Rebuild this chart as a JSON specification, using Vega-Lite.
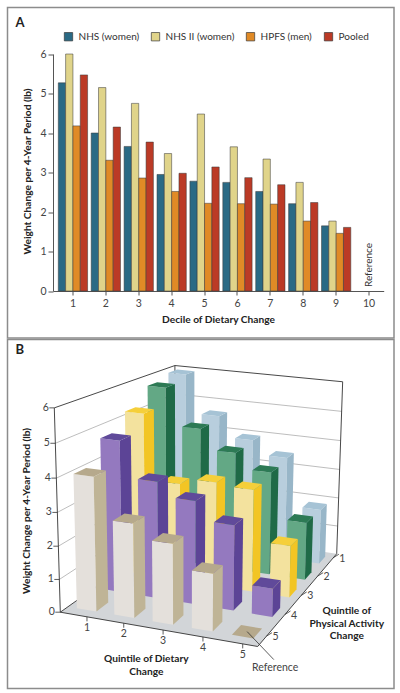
{
"$schema":"https://vega.github.io/schema/vega-lite/v6.json",
"padding":{"left":6.5,"top":6.5,"right":0,"bottom":0},
"spacing":-3.5,
"background":"white",
"config":{"font":"Lato","view":{"stroke":"#8c8c8c","strokeWidth":1.5},"text":{"color":"#333"}},
"datasets":{
"bars3d":[
{"diet":1,"activity":1,"change":5.95},{"diet":2,"activity":1,"change":4.65},{"diet":3,"activity":1,"change":3.96},{"diet":4,"activity":1,"change":3.5},{"diet":5,"activity":1,"change":1.87},
{"diet":1,"activity":2,"change":5.77},{"diet":2,"activity":2,"change":4.55},{"diet":3,"activity":2,"change":3.9},{"diet":4,"activity":2,"change":3.4},{"diet":5,"activity":2,"change":1.9},
{"diet":1,"activity":3,"change":5.23},{"diet":2,"activity":3,"change":3.14},{"diet":3,"activity":3,"change":3.34},{"diet":4,"activity":3,"change":3.26},{"diet":5,"activity":3,"change":1.65},
{"diet":1,"activity":4,"change":4.73},{"diet":2,"activity":4,"change":3.63},{"diet":3,"activity":4,"change":3.2},{"diet":4,"activity":4,"change":2.63},{"diet":5,"activity":4,"change":0.87},
{"diet":1,"activity":5,"change":4.04},{"diet":2,"activity":5,"change":2.83},{"diet":3,"activity":5,"change":2.41},{"diet":4,"activity":5,"change":1.71},{"diet":5,"activity":5,"change":0}
],
"scene":[
{"part":"floor","kind":"floor","corner":0,"diet":0.5,"activity":5.5,"change":0},
{"part":"floor","kind":"floor","corner":1,"diet":5.5,"activity":5.5,"change":0},
{"part":"floor","kind":"floor","corner":2,"diet":5.5,"activity":0.5,"change":0},
{"part":"floor","kind":"floor","corner":3,"diet":0.5,"activity":0.5,"change":0},
{"part":"grid1","kind":"grid","diet":0.5,"activity":5.5,"change":1},{"part":"grid1","kind":"grid","diet":0.5,"activity":0.5,"change":1},{"part":"grid1","kind":"grid","diet":5.5,"activity":0.5,"change":1},
{"part":"grid2","kind":"grid","diet":0.5,"activity":5.5,"change":2},{"part":"grid2","kind":"grid","diet":0.5,"activity":0.5,"change":2},{"part":"grid2","kind":"grid","diet":5.5,"activity":0.5,"change":2},
{"part":"grid3","kind":"grid","diet":0.5,"activity":5.5,"change":3},{"part":"grid3","kind":"grid","diet":0.5,"activity":0.5,"change":3},{"part":"grid3","kind":"grid","diet":5.5,"activity":0.5,"change":3},
{"part":"grid4","kind":"grid","diet":0.5,"activity":5.5,"change":4},{"part":"grid4","kind":"grid","diet":0.5,"activity":0.5,"change":4},{"part":"grid4","kind":"grid","diet":5.5,"activity":0.5,"change":4},
{"part":"grid5","kind":"grid","diet":0.5,"activity":5.5,"change":5},{"part":"grid5","kind":"grid","diet":0.5,"activity":0.5,"change":5},{"part":"grid5","kind":"grid","diet":5.5,"activity":0.5,"change":5},
{"part":"left","kind":"edge","diet":0.5,"activity":5.5,"change":0},{"part":"left","kind":"edge","diet":0.5,"activity":5.5,"change":6},
{"part":"right","kind":"edge","diet":5.5,"activity":0.5,"change":0},{"part":"right","kind":"edge","diet":5.5,"activity":0.5,"change":6},
{"part":"back","kind":"edge","diet":0.5,"activity":0.5,"change":0},{"part":"back","kind":"edge","diet":0.5,"activity":0.5,"change":6},
{"part":"top","kind":"edge","diet":0.5,"activity":5.5,"change":6},{"part":"top","kind":"edge","diet":0.5,"activity":0.5,"change":6},{"part":"top","kind":"edge","diet":5.5,"activity":0.5,"change":6},
{"part":"floorleft","kind":"edge","diet":0.5,"activity":5.5,"change":0},{"part":"floorleft","kind":"edge","diet":0.5,"activity":0.5,"change":0},
{"part":"floorfront","kind":"edge","diet":0.5,"activity":5.5,"change":0},{"part":"floorfront","kind":"edge","diet":5.5,"activity":5.5,"change":0},
{"part":"floorright","kind":"edge","diet":5.5,"activity":5.5,"change":0},{"part":"floorright","kind":"edge","diet":5.5,"activity":0.5,"change":0}
],
"ticks":[
{"axis":"change","label":"0","diet":0.5,"activity":5.5,"change":0},{"axis":"change","label":"1","diet":0.5,"activity":5.5,"change":1},{"axis":"change","label":"2","diet":0.5,"activity":5.5,"change":2},{"axis":"change","label":"3","diet":0.5,"activity":5.5,"change":3},{"axis":"change","label":"4","diet":0.5,"activity":5.5,"change":4},{"axis":"change","label":"5","diet":0.5,"activity":5.5,"change":5},{"axis":"change","label":"6","diet":0.5,"activity":5.5,"change":6},
{"axis":"diet","label":"1","diet":1.21,"activity":5.5,"change":0},{"axis":"diet","label":"2","diet":2.17,"activity":5.5,"change":0},{"axis":"diet","label":"3","diet":3.175,"activity":5.5,"change":0},{"axis":"diet","label":"4","diet":4.17,"activity":5.5,"change":0},{"axis":"diet","label":"5","diet":5.14,"activity":5.5,"change":0},
{"axis":"activity","label":"1","diet":5.5,"activity":0.765,"change":0},{"axis":"activity","label":"2","diet":5.5,"activity":1.935,"change":0},{"axis":"activity","label":"3","diet":5.5,"activity":3.04,"change":0},{"axis":"activity","label":"4","diet":5.5,"activity":4.03,"change":0},{"axis":"activity","label":"5","diet":5.5,"activity":5.05,"change":0},
{"axis":"reference","label":"Reference","diet":5,"activity":5,"change":0}
]
},
"vconcat":[
{
"width":386.5,"height":330.5,
"title":{"text":"A","anchor":"start","frame":"group","dx":8,"dy":22,"offset":0,"fontSize":13,"fontWeight":"bold","color":"#222","font":"Lato"},
"layer":[
{
"data":{"values":[
{"decile":1,"study":"NHS (women)","change":5.27},{"decile":1,"study":"NHS II (women)","change":6.0},{"decile":1,"study":"HPFS (men)","change":4.18},{"decile":1,"study":"Pooled","change":5.47},
{"decile":2,"study":"NHS (women)","change":4.0},{"decile":2,"study":"NHS II (women)","change":5.15},{"decile":2,"study":"HPFS (men)","change":3.31},{"decile":2,"study":"Pooled","change":4.15},
{"decile":3,"study":"NHS (women)","change":3.66},{"decile":3,"study":"NHS II (women)","change":4.75},{"decile":3,"study":"HPFS (men)","change":2.86},{"decile":3,"study":"Pooled","change":3.77},
{"decile":4,"study":"NHS (women)","change":2.95},{"decile":4,"study":"NHS II (women)","change":3.48},{"decile":4,"study":"HPFS (men)","change":2.52},{"decile":4,"study":"Pooled","change":2.98},
{"decile":5,"study":"NHS (women)","change":2.78},{"decile":5,"study":"NHS II (women)","change":4.48},{"decile":5,"study":"HPFS (men)","change":2.22},{"decile":5,"study":"Pooled","change":3.14},
{"decile":6,"study":"NHS (women)","change":2.75},{"decile":6,"study":"NHS II (women)","change":3.65},{"decile":6,"study":"HPFS (men)","change":2.21},{"decile":6,"study":"Pooled","change":2.87},
{"decile":7,"study":"NHS (women)","change":2.52},{"decile":7,"study":"NHS II (women)","change":3.34},{"decile":7,"study":"HPFS (men)","change":2.2},{"decile":7,"study":"Pooled","change":2.69},
{"decile":8,"study":"NHS (women)","change":2.21},{"decile":8,"study":"NHS II (women)","change":2.75},{"decile":8,"study":"HPFS (men)","change":1.77},{"decile":8,"study":"Pooled","change":2.24},
{"decile":9,"study":"NHS (women)","change":1.65},{"decile":9,"study":"NHS II (women)","change":1.77},{"decile":9,"study":"HPFS (men)","change":1.46},{"decile":9,"study":"Pooled","change":1.61}
]},
"mark":{"type":"bar","stroke":"#3a3a3a","strokeWidth":0.7,"strokeOpacity":0.75},
"encoding":{
"x":{"field":"decile","type":"ordinal","scale":{"domain":[1,2,3,4,5,6,7,8,9,10],"range":[45.5,376.2],"paddingInner":0.11,"paddingOuter":0.0806,"align":1},
"axis":{"offset":-47,"labelAngle":0,"title":"Decile of Dietary Change","titleX":210.5,"titleY":28,"titleFontSize":10.2,"titleFontWeight":"bold","titleColor":"#222","titleBaseline":"middle","titleAnchor":"middle","titleAlign":"center","labelFontSize":10.5,"labelColor":"#444","labelPadding":3,"tickColor":"#555","domainColor":"#555","tickSize":4}},
"y":{"field":"change","type":"quantitative","scale":{"domain":[0,6],"range":[283.5,46.5],"nice":false},
"axis":{"offset":-45.5,"values":[0,1,2,3,4,5,6],"format":"d","grid":false,"title":"Weight Change per 4-Year Period (lb)","titleX":-26,"titleY":163.5,"titleFontSize":10.2,"titleFontWeight":"bold","titleColor":"#222","titleBaseline":"middle","titleAnchor":"middle","titleAlign":"center","labelFontSize":10.5,"labelColor":"#444","labelPadding":2,"tickColor":"#555","domainColor":"#555","tickSize":5}},
"xOffset":{"field":"study","type":"nominal","scale":{"domain":["NHS (women)","NHS II (women)","HPFS (men)","Pooled"],"paddingInner":0,"paddingOuter":0}},
"fill":{"field":"study","type":"nominal","scale":{"domain":["NHS (women)","NHS II (women)","HPFS (men)","Pooled"],"range":["#2a6a85","#e0d48a","#e08a26","#bb3a26"]},
"legend":{"title":null,"orient":"none","direction":"horizontal","legendX":56,"legendY":24,"symbolType":"square","symbolSize":70,"symbolStrokeColor":"#3a3a3a","symbolStrokeWidth":0.7,"labelFontSize":10,"labelColor":"#333","labelOffset":5,"columnPadding":10,"columns":4,"padding":0}}
}
},
{
"data":{"values":[{"decile":10,"label":"Reference","change":0.1}]},
"mark":{"type":"text","angle":270,"align":"left","baseline":"middle","fontSize":10,"color":"#333"},
"encoding":{
"x":{"field":"decile","type":"ordinal"},
"y":{"field":"change","type":"quantitative"},
"text":{"field":"label"}
}
}
]
},
{
"width":386.5,"height":349,
"title":{"text":"B","anchor":"start","frame":"group","dx":8,"dy":17,"offset":0,"fontSize":13,"fontWeight":"bold","color":"#222","font":"Lato"},
"encoding":{
"x":{"field":"X","type":"quantitative","scale":{"domain":[6.5,393],"nice":false,"zero":false},"axis":null},
"y":{"field":"Y","type":"quantitative","scale":{"domain":[686,337],"nice":false,"zero":false},
"axis":{"labels":false,"ticks":false,"domain":false,"grid":false,"title":"Weight Change per 4-Year Period (lb)","titleX":18.5,"titleY":171,"titleFontSize":10.2,"titleFontWeight":"bold","titleColor":"#222","titleBaseline":"middle","titleAnchor":"middle","titleAlign":"center"}}
},
"layer":[
{
"data":{"name":"scene"},
"transform":[{"filter":"datum.kind=='floor'"},
{"calculate":"(datum.diet-0.5)/5","as":"s"},{"calculate":"(5.5-datum.activity)/5","as":"t"},{"calculate":"datum.change/6","as":"r"},
{"calculate":"(183.09*datum.s+158.63*datum.t+59.3-8.43*datum.r)/(1-0.05574*datum.s+0.25033*datum.t-0.04556*datum.r)","as":"X"},
{"calculate":"(-1.6*datum.s+50.47*datum.t+609.7-222.8*datum.r)/(1-0.05574*datum.s+0.25033*datum.t-0.04556*datum.r)","as":"Y"}],
"mark":{"type":"line","filled":true,"fill":"#d2d5d8","strokeWidth":0},
"encoding":{"order":{"field":"corner","type":"quantitative"}}
},
{
"data":{"name":"scene"},
"transform":[{"filter":"datum.kind=='grid'"},
{"calculate":"(datum.diet-0.5)/5","as":"s"},{"calculate":"(5.5-datum.activity)/5","as":"t"},{"calculate":"datum.change/6","as":"r"},
{"calculate":"(183.09*datum.s+158.63*datum.t+59.3-8.43*datum.r)/(1-0.05574*datum.s+0.25033*datum.t-0.04556*datum.r)","as":"X"},
{"calculate":"(-1.6*datum.s+50.47*datum.t+609.7-222.8*datum.r)/(1-0.05574*datum.s+0.25033*datum.t-0.04556*datum.r)","as":"Y"}],
"mark":{"type":"line","stroke":"#b5b5b5","strokeWidth":0.9},
"encoding":{"detail":{"field":"part"}}
},
{
"data":{"name":"scene"},
"transform":[{"filter":"datum.kind=='edge'"},
{"calculate":"(datum.diet-0.5)/5","as":"s"},{"calculate":"(5.5-datum.activity)/5","as":"t"},{"calculate":"datum.change/6","as":"r"},
{"calculate":"(183.09*datum.s+158.63*datum.t+59.3-8.43*datum.r)/(1-0.05574*datum.s+0.25033*datum.t-0.04556*datum.r)","as":"X"},
{"calculate":"(-1.6*datum.s+50.47*datum.t+609.7-222.8*datum.r)/(1-0.05574*datum.s+0.25033*datum.t-0.04556*datum.r)","as":"Y"}],
"mark":{"type":"line","stroke":"#333","strokeWidth":0.9},
"encoding":{"detail":{"field":"part"}}
},
{
"data":{"name":"bars3d"},
"transform":[
{"calculate":"[0,1,2]","as":"f"},{"flatten":["f"]},
{"calculate":"[0,1,2,3]","as":"c"},{"flatten":["c"]},
{"calculate":"datum.diet+'-'+datum.activity+'-'+datum.f","as":"series"},
{"calculate":"datum.activity+'-'+datum.f","as":"tone"},
{"calculate":"(datum.diet-0.5+0.2625*[[-1,1,1,-1],[1,1,1,1],[-1,1,1,-1]][datum.f][datum.c])/5","as":"s"},
{"calculate":"(5.5-datum.activity+0.225*[[-1,-1,-1,-1],[-1,1,1,-1],[-1,-1,1,1]][datum.f][datum.c])/5","as":"t"},
{"calculate":"datum.change/6*[[0,0,1,1],[0,0,1,1],[1,1,1,1]][datum.f][datum.c]","as":"r"},
{"calculate":"(183.09*datum.s+158.63*datum.t+59.3-8.43*datum.r)/(1-0.05574*datum.s+0.25033*datum.t-0.04556*datum.r)","as":"X"},
{"calculate":"(-1.6*datum.s+50.47*datum.t+609.7-222.8*datum.r)/(1-0.05574*datum.s+0.25033*datum.t-0.04556*datum.r)","as":"Y"}],
"mark":{"type":"line","filled":true,"strokeWidth":0},
"encoding":{
"detail":{"field":"series"},
"order":{"field":"c","type":"quantitative"},
"color":{"field":"tone","type":"nominal","legend":null,"scale":{
"domain":["1-0","1-1","1-2","2-0","2-1","2-2","3-0","3-1","3-2","4-0","4-1","4-2","5-0","5-1","5-2"],
"range":["#b8cedd","#98b6c8","#a6c3d5","#63a885","#1f6a47","#2d7a55","#f3e29e","#f2c524","#f5cf3a","#9479bf","#5c4496","#604a9a","#e4e0db","#bfb496","#b6a98c"]}}
}
},
{
"data":{"name":"ticks"},
"transform":[
{"calculate":"(datum.diet-0.5)/5","as":"s"},{"calculate":"(5.5-datum.activity)/5","as":"t"},{"calculate":"datum.change/6","as":"r"},
{"calculate":"(183.09*datum.s+158.63*datum.t+59.3-8.43*datum.r)/(1-0.05574*datum.s+0.25033*datum.t-0.04556*datum.r)","as":"X"},
{"calculate":"(-1.6*datum.s+50.47*datum.t+609.7-222.8*datum.r)/(1-0.05574*datum.s+0.25033*datum.t-0.04556*datum.r)","as":"Y"},
{"calculate":"datum.X+(datum.axis=='change'?-5:datum.axis=='diet'?0:datum.axis=='activity'?5.5:26.7)","as":"X2"},
{"calculate":"datum.Y+(datum.axis=='change'?0:datum.axis=='diet'?4.5:datum.axis=='activity'?-3.5:28)","as":"Y2"}],
"mark":{"type":"rule","stroke":"#333","strokeWidth":0.8},
"encoding":{"x2":{"field":"X2"},"y2":{"field":"Y2"}}
},
{
"data":{"name":"ticks"},
"transform":[
{"calculate":"(datum.diet-0.5)/5","as":"s"},{"calculate":"(5.5-datum.activity)/5","as":"t"},{"calculate":"datum.change/6","as":"r"},
{"calculate":"(183.09*datum.s+158.63*datum.t+59.3-8.43*datum.r)/(1-0.05574*datum.s+0.25033*datum.t-0.04556*datum.r)+(datum.axis=='change'?-8.5:datum.axis=='diet'?0:datum.axis=='activity'?9:28)","as":"X"},
{"calculate":"(-1.6*datum.s+50.47*datum.t+609.7-222.8*datum.r)/(1-0.05574*datum.s+0.25033*datum.t-0.04556*datum.r)+(datum.axis=='change'?0:datum.axis=='diet'?11:datum.axis=='activity'?1:36.5)","as":"Y"}],
"mark":{"type":"text","align":"center","baseline":"middle","fontSize":10.5,"color":"#444"},
"encoding":{"text":{"field":"label"}}
},
{
"data":{"values":[{"label":"Quintile of Dietary|Change","diet":2.75,"activity":5.5,"change":0}]},
"transform":[
{"calculate":"(datum.diet-0.5)/5","as":"s"},{"calculate":"(5.5-datum.activity)/5","as":"t"},{"calculate":"datum.change/6","as":"r"},
{"calculate":"(183.09*datum.s+158.63*datum.t+59.3-8.43*datum.r)/(1-0.05574*datum.s+0.25033*datum.t-0.04556*datum.r)","as":"X"},
{"calculate":"(-1.6*datum.s+50.47*datum.t+609.7-222.8*datum.r)/(1-0.05574*datum.s+0.25033*datum.t-0.04556*datum.r)","as":"Y"}],
"mark":{"type":"text","align":"center","baseline":"middle","fontSize":10.2,"fontWeight":"bold","color":"#222","lineBreak":"|","lineHeight":12.7,"dy":32.3},
"encoding":{"text":{"field":"label"}}
},
{
"data":{"values":[{"label":"Quintile of|Physical Activity|Change","diet":5.5,"activity":3,"change":0}]},
"transform":[
{"calculate":"(datum.diet-0.5)/5","as":"s"},{"calculate":"(5.5-datum.activity)/5","as":"t"},{"calculate":"datum.change/6","as":"r"},
{"calculate":"(183.09*datum.s+158.63*datum.t+59.3-8.43*datum.r)/(1-0.05574*datum.s+0.25033*datum.t-0.04556*datum.r)","as":"X"},
{"calculate":"(-1.6*datum.s+50.47*datum.t+609.7-222.8*datum.r)/(1-0.05574*datum.s+0.25033*datum.t-0.04556*datum.r)","as":"Y"}],
"mark":{"type":"text","align":"center","baseline":"middle","fontSize":10.2,"fontWeight":"bold","color":"#222","lineBreak":"|","lineHeight":12.4,"dx":45,"dy":16.5},
"encoding":{"text":{"field":"label"}}
}
]
}
]
}
